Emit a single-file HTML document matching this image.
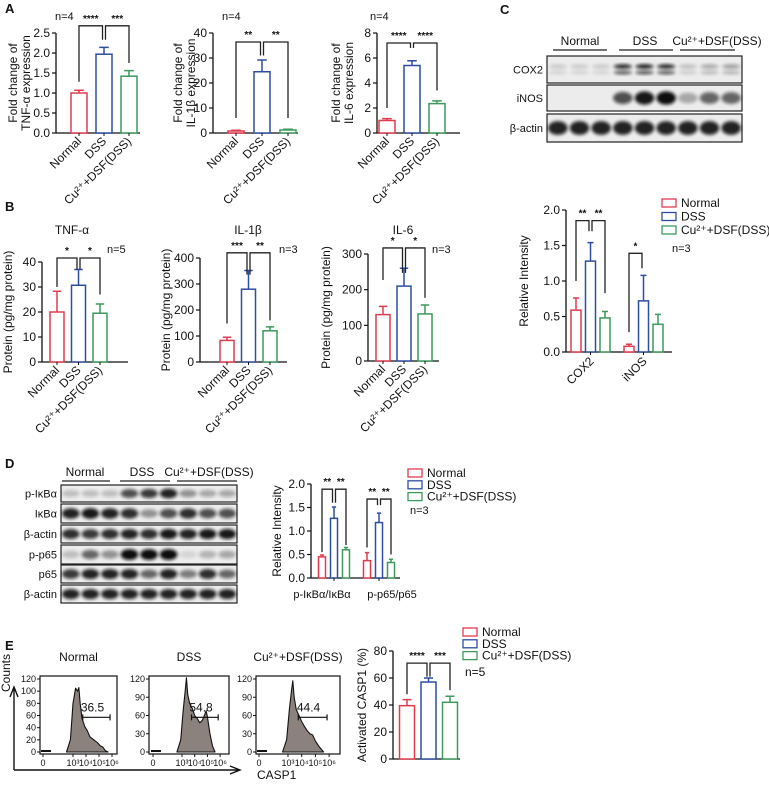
<!DOCTYPE html>
<html><head><meta charset="utf-8"><style>
html,body{margin:0;padding:0;background:#fff}
svg{display:block;font-family:"Liberation Sans",Arial,sans-serif}
</style></head><body>
<svg id="fig" width="769" height="785" viewBox="0 0 769 785" xmlns="http://www.w3.org/2000/svg">
<defs><filter id="blur" x="-20%" y="-50%" width="140%" height="200%"><feGaussianBlur stdDeviation="1.6"/></filter></defs>
</svg>
<script>
// ---------- data ----------
const groups3 = ['Normal','DSS','Cu²⁺+DSF(DSS)'];
const a1Vals = [1.0, 1.97, 1.42]; const a1Errs = [0.07, 0.17, 0.14];
const a1Ticks = [0, 0.5, 1.0, 1.5, 2.0, 2.5];
const a2Vals = [0.8, 24.5, 1.2]; const a2Errs = [0.3, 4.7, 0.3];
const a2Ticks = [0, 10, 20, 30, 40];
const a3Vals = [1.0, 5.4, 2.35]; const a3Errs = [0.15, 0.38, 0.22];
const a3Ticks = [0, 2, 4, 6, 8];
const b1Vals = [20, 30.7, 19.5]; const b1Errs = [8.3, 6.3, 3.7];
const b1Ticks = [0, 10, 20, 30, 40];
const b2Vals = [83, 280, 120]; const b2Errs = [12, 72, 15];
const b2Ticks = [0, 100, 200, 300, 400];
const b3Vals = [130, 210, 132]; const b3Errs = [23, 50, 25];
const b3Ticks = [0, 100, 200, 300];
const cCats = ['COX2','iNOS'];
const cNormal = [0.59, 0.08]; const cNormalErr = [0.17, 0.03];
const cDSS = [1.28, 0.72]; const cDSSErr = [0.26, 0.36];
const cCu = [0.48, 0.39]; const cCuErr = [0.09, 0.14];
const cTicks = [0, 0.5, 1.0, 1.5, 2.0];
const dCats = ['p-IκBα/IκBα','p-p65/p65'];
const dNormal = [0.45, 0.37]; const dNormalErr = [0.04, 0.17];
const dDSS = [1.27, 1.18]; const dDSSErr = [0.24, 0.2];
const dCu = [0.6, 0.33]; const dCuErr = [0.05, 0.07];
const dTicks = [0, 0.5, 1.0, 1.5, 2.0];
const eVals = [39.5, 57, 42]; const eErrs = [4.5, 3, 4.5];
const eTicks = [0, 20, 40, 60, 80];
// flow histograms (log10 decade, count)
const hNormalX = [2.5,2.8,3.0,3.2,3.35,3.45,3.55,3.7,3.9,4.1,4.3,4.6,4.9,5.1,5.3,5.5,5.7];
const hNormalC = [0,20,80,105,100,106,80,55,42,35,25,20,15,10,8,2,0];
const hDSSX = [2.6,2.9,3.1,3.25,3.35,3.45,3.6,3.8,4.0,4.2,4.4,4.6,4.8,4.9,5.0,5.2,5.4,5.6];
const hDSSC = [0,20,70,100,122,95,80,72,60,55,48,52,62,68,58,30,10,0];
const hCuX = [2.6,2.9,3.1,3.25,3.35,3.45,3.6,3.8,4.0,4.2,4.4,4.6,4.8,5.0,5.3,5.6];
const hCuC = [0,20,70,100,117,90,70,60,50,42,35,30,28,18,8,0];
const gateValues = ['36.5','54.8','44.4'];
// blot intensities
const cBlotCOX2 = [0.15,0.15,0.15,0.9,0.95,0.9,0.2,0.3,0.35];
const cBlotINOS = [0,0,0,0.7,0.95,1,0.3,0.6,0.6];
const cBlotActin = [0.9,0.9,0.9,0.9,0.9,0.9,0.9,0.9,0.9];
const dBlotPIkB = [0.2,0.2,0.2,0.7,0.8,0.9,0.4,0.3,0.3];
const dBlotIkB = [0.9,0.95,0.9,0.85,0.4,0.7,0.85,0.7,0.7];
const dBlotActin1 = [0.85,0.8,0.85,0.9,0.85,0.95,0.9,0.95,0.95];
const dBlotPp65 = [0.2,0.6,0.4,1,1,1,0.1,0.25,0.3];
const dBlotP65 = [0.8,0.9,0.9,0.9,0.6,0.9,0.5,0.85,0.6];
const dBlotActin2 = [0.9,0.9,0.9,0.9,0.9,0.9,0.9,0.9,0.9];

const COLORS = ['#e23b4e','#2d4ea3','#3c9a5c'];
const NS = 'http://www.w3.org/2000/svg';
const svg = document.getElementById('fig');
function mk(tag, a, parent){ const e = document.createElementNS(NS, tag); for (const k in a) e.setAttribute(k, a[k]); (parent||svg).appendChild(e); return e; }
function txt(x, y, s, size, anchor, extra){ const t = mk('text', Object.assign({x:x, y:y, 'font-size':size||11, 'text-anchor':anchor||'start', fill:'#111'}, extra||{})); t.textContent = s; return t; }

// ---------- bar chart ----------
function drawChart(cfg, series, errs, cats){
  const g = mk('g', {});
  
  
  const y = v => cfg.y0 - v / cfg.max * (cfg.y0 - cfg.yTop);
  const cx = (gi, si) => cfg.x0 + gi * cfg.gStep + si * cfg.sStep;
  const ya = mk('line', {x1:cfg.ax, x2:cfg.ax, y1:cfg.y0, y2:y(cfg.max), stroke:'#111','stroke-width':1.3}, g);
  
  
  cfg.ticks.forEach(t => {
    mk('line', {x1:cfg.ax-4, x2:cfg.ax, y1:y(t), y2:y(t), stroke:'#111','stroke-width':1.2}, g);
    const lb = txt(cfg.ax-6, y(t)+4, t.toFixed(cfg.dec), cfg.tfs||12, 'end', {});
    g.appendChild(lb);
    
    
  });
  const xa = mk('line', {x1:cfg.ax, x2:cfg.xEnd, y1:cfg.y0, y2:cfg.y0, stroke:'#111','stroke-width':1.3}, g);
  
  
  series.forEach((vals, si) => {
    vals.forEach((v, gi) => {
      const c = cx(gi, si), bw = cfg.bw;
      const r = mk('rect', {x:c-bw/2, y:y(v), width:bw, height:cfg.y0-y(v), fill:'#fff', stroke:COLORS[si], 'stroke-width':1.5}, g);
      
      
      const e = errs[si][gi];
      const eb = mk('path', {d:`M${c} ${y(v)} V${y(v+e)} M${c-bw*0.3} ${y(v+e)} H${c+bw*0.3}`, stroke:COLORS[si], 'stroke-width':1.5, fill:'none'}, g);
      
      
      if (cfg.perBarTick) mk('line', {x1:c, x2:c, y1:cfg.y0, y2:cfg.y0+3, stroke:'#111'}, g);
    });
  });
  if (cfg.rotLabels === 'bar') {
    groups3.forEach((s, si) => {
      const c = cx(0, si);
      const t = txt(c+3, cfg.y0+9, s, cfg.lfs||12, 'end', {transform:`rotate(-45 ${c+3} ${cfg.y0+9})`});
      g.appendChild(t);
      
      
    });
  } else if (cats) {
    cats.forEach((s, gi) => {
      const c = cx(gi, 1);
      mk('line', {x1:c, x2:c, y1:cfg.y0, y2:cfg.y0+3, stroke:'#111'}, g);
      let t;
      if (cfg.rotLabels === 'group') t = txt(c+4, cfg.y0+10, s, 12, 'end', {transform:`rotate(-45 ${c+4} ${cfg.y0+10})`});
      else t = txt(c + (gi === 0 ? -12 : 13), cfg.y0+20, s, 11, 'middle');
      g.appendChild(t);
      
      
    });
  }
  (cfg.sigs||[]).forEach(sg => {
    const [gi1, si1, gi2, si2, lev, d1, d2, lab] = sg;
    const x1 = cx(gi1, si1) + (si1===1 ? 1.5 : 0), x2 = cx(gi2, si2) - (si2===1 ? 1.5 : 0);
    const p = mk('path', {d:`M${x1} ${y(d1)} V${y(lev)} H${x2} V${y(d2)}`, stroke:'#222','stroke-width':1.3, fill:'none'}, g);
    
    
    const t = txt((x1+x2)/2, y(lev)-4, lab, 10, 'middle', {'font-weight':'bold'});
    g.appendChild(t);
    
    
  });
  if (cfg.ytitle) {
    const ty = (cfg.y0 + y(cfg.max)) / 2;
    cfg.ytitle.forEach((line, i) => {
      const xx = cfg.ytx + i * 13;
      const t = txt(xx, ty, line, cfg.ytfs||12, 'middle', {transform:`rotate(-90 ${xx} ${ty})`});
      g.appendChild(t);
      
      
    });
  }
}
const one = v => v.map(x => [x]);

drawChart({name:'chart-a-tnf', ax:56, y0:133, yTop:33, max:2.5, ticks:a1Ticks, dec:1, x0:79, gStep:0, sStep:25, bw:16, xEnd:140, perBarTick:true, rotLabels:'bar', ytitle:['Fold change of','TNF-α expression'], ytx:17,
  sigs:[[0,0,0,1,2.68,1.28,2.33,'****'],[0,1,0,2,2.68,2.33,1.75,'***']]}, one(a1Vals), one(a1Errs));
drawChart({name:'chart-a-il1b', ax:213, y0:133, yTop:33, max:40, ticks:a2Ticks, dec:0, x0:236, gStep:0, sStep:26, bw:16, xEnd:298, perBarTick:true, rotLabels:'bar', ytitle:['Fold change of','IL-1β expression'], ytx:182,
  sigs:[[0,0,0,1,36.4,6,31,'**'],[0,1,0,2,36.4,31,6,'**']]}, one(a2Vals), one(a2Errs));
drawChart({name:'chart-a-il6', ax:377, y0:133, yTop:33, max:8, ticks:a3Ticks, dec:0, x0:387, gStep:0, sStep:25, bw:16, xEnd:460, perBarTick:true, rotLabels:'bar', ytitle:['Fold change of','IL-6 expression'], ytx:340,
  sigs:[[0,0,0,1,7.2,2,6.8,'****'],[0,1,0,2,7.2,6.8,3.4,'****']]}, one(a3Vals), one(a3Errs));
drawChart({name:'chart-b-tnf', ax:42, y0:362, yTop:262, max:40, ticks:b1Ticks, dec:0, x0:57, gStep:0, sStep:21.5, bw:14, xEnd:128, perBarTick:true, rotLabels:'bar', ytitle:['Protein (pg/mg protein)'], ytx:12,
  sigs:[[0,0,0,1,41.6,30,37,'*'],[0,1,0,2,41.6,37,27,'*']]}, one(b1Vals), one(b1Errs));
drawChart({name:'chart-b-il1b', ax:200, y0:362, yTop:258, max:400, ticks:b2Ticks, dec:0, x0:227, gStep:0, sStep:21.5, bw:14, xEnd:287, perBarTick:true, rotLabels:'bar', ytitle:['Protein (pg/mg protein)'], ytx:170,
  sigs:[[0,0,0,1,420,148,336,'***'],[0,1,0,2,420,336,160,'**']]}, one(b2Vals), one(b2Errs));
drawChart({name:'chart-b-il6', ax:368, y0:361, yTop:254, max:300, ticks:b3Ticks, dec:0, x0:383, gStep:0, sStep:21, bw:14, xEnd:439, perBarTick:true, rotLabels:'bar', ytitle:['Protein (pg/mg protein)'], ytx:330,
  sigs:[[0,0,0,1,317,227,247,'*'],[0,1,0,2,317,247,177,'*']]}, one(b3Vals), one(b3Errs));
drawChart({name:'chart-c-relative-intensity', ax:566, y0:352, yTop:210, max:2, ticks:cTicks, dec:1, x0:576, gStep:53, sStep:14.5, bw:10, xEnd:672, rotLabels:'group', ytitle:['Relative Intensity'], ytx:528,
  sigs:[[0,0,0,1,1.85,1.0,1.7,'**'],[0,1,0,2,1.85,1.7,0.83,'**'],[1,0,1,1,1.39,0.28,1.18,'*']]},
  [cNormal, cDSS, cCu], [cNormalErr, cDSSErr, cCuErr], cCats);
drawChart({name:'chart-d-relative-intensity', ax:311, y0:578, yTop:484, max:2, ticks:dTicks, dec:1, x0:322, gStep:45, sStep:12, bw:7, xEnd:400, rotLabels:'none', ytitle:['Relative Intensity'], ytx:281,
  sigs:[[0,0,0,1,1.89,0.55,1.6,'**'],[0,1,0,2,1.89,1.6,0.7,'**'],[1,0,1,1,1.68,0.65,1.55,'**'],[1,1,1,2,1.68,1.55,0.5,'**']]},
  [dNormal, dDSS, dCu], [dNormalErr, dDSSErr, dCuErr], dCats);
drawChart({name:'chart-e-activated-casp1', ax:393, y0:759, yTop:651, max:80, ticks:eTicks, dec:0, x0:407, gStep:0, sStep:21.5, bw:15, xEnd:460, rotLabels:'none', ytitle:['Activated CASP1 (%)'], ytx:366, tfs:12,
  sigs:[[0,0,0,1,71,48,61,'****'],[0,1,0,2,71,61,51,'***']]}, one(eVals), one(eErrs));

// ---------- legends ----------
function legend(x, y, step, name){
  const g = mk('g', {});
  
  
  groups3.forEach((s, i) => {
    mk('rect', {x:x, y:y+i*step-8, width:14, height:8, fill:'#fff', stroke:COLORS[i], 'stroke-width':1.3}, g);
    const t = txt(x+19, y+i*step, s, 12, 'start');
    g.appendChild(t);
    
    
  });
}
legend(662, 207, 13.5, 'legend-c');
legend(408, 477, 11.8, 'legend-d');
legend(463, 636, 11.8, 'legend-e');

// ---------- static text ----------
const statics = [
  [5,13,'A',13,'bold','panel-label-a'],[5,211,'B',13,'bold','panel-label-b'],[500,14,'C',13,'bold','panel-label-c'],
  [5,468,'D',13,'bold','panel-label-d'],[5,650,'E',13,'bold','panel-label-e'],
  [55,20,'n=4',11,'','n-label'],[222,20,'n=4',11,'','n-label'],[370,20,'n=4',11,'','n-label'],
  [107,253,'n=5',11,'','n-label'],[279,253,'n=3',11,'','n-label'],[432,253,'n=3',11,'','n-label'],
  [672,252,'n=3',11,'','n-label'],[410,514,'n=3',11,'','n-label'],[465,676,'n=5',12,'','n-label']
];
statics.forEach(s => {
  const t = txt(s[0], s[1], s[2], s[3], 'start', s[4] ? {'font-weight':'bold'} : {});
  
  
});
[[72,234,'TNF-α'],[248,234,'IL-1β'],[403,234,'IL-6']].forEach(s => {
  const t = txt(s[0], s[1], s[2], 12, 'middle');
  
  
});

// ---------- western blots ----------
function blot(x0, x1, rows, name){
  const g = mk('g', {});
  
  
  const lw = (x1 - x0) / 9;
  rows.forEach(r => {
    const [label, yt, yb, ints, dbl] = r;
    mk('rect', {x:x0, y:yt, width:x1-x0, height:yb-yt, fill:'#ececec', stroke:'#222', 'stroke-width':1.2}, g);
    ints.forEach((v, i) => {
      const cx = x0 + lw*(i+0.5), cy = (yt+yb)/2;
      if (dbl) {
        mk('ellipse', {cx:cx, cy:cy-3, rx:lw*0.42, ry:2.2, fill:'#111', opacity:v, filter:'url(#blur)'}, g);
        mk('ellipse', {cx:cx, cy:cy+3, rx:lw*0.42, ry:2, fill:'#111', opacity:v*0.7, filter:'url(#blur)'}, g);
      } else {
        mk('ellipse', {cx:cx, cy:cy, rx:lw*0.45, ry:(yb-yt)*0.18 + v*2, fill:'#111', opacity:v, filter:'url(#blur)'}, g);
      }
    });
    const t = txt(x0-4, (yt+yb)/2+4, label, 11, 'end');
    g.appendChild(t);
    
    
  });
}
blot(547, 742, [['COX2',56,83,cBlotCOX2,true],['iNOS',85,111,cBlotINOS,false],['β-actin',114,142,cBlotActin,false]], 'blot-c');
blot(61, 237, [['p-IκBα',485,502,dBlotPIkB,false],['IκBα',504,523,dBlotIkB,false],['β-actin',525,543,dBlotActin1,false],
  ['p-p65',545,564,dBlotPp65,false],['p65',565,583,dBlotP65,false],['β-actin',585,603,dBlotActin2,false]], 'blot-d');
[[580,45,553,607,'Normal'],[645,45,619,673,'DSS'],[717,45,680,735,'Cu²⁺+DSF(DSS)'],
 [85,476,62,110,'Normal'],[142,476,120,170,'DSS'],[209,476,177,237,'Cu²⁺+DSF(DSS)']].forEach(s => {
  const t = txt(s[0], s[1], s[4], 12, 'middle');
  
  
  const l = mk('line', {x1:s[2], x2:s[3], y1:s[1]+5, y2:s[1]+5, stroke:'#222', 'stroke-width':1.2});
  
  
});

// ---------- flow histograms ----------
function flow(cfg, xs, cs, gate){
  const g = mk('g', {});
  
  
  const px = d => cfg.p3 + (d - 3) * cfg.dec;
  const py = c => 752 - c * 73 / 120;
  let d = `M${px(xs[0])} ${py(0)}`;
  xs.forEach((x, i) => { d += ` L${px(x)} ${py(cs[i])}`; });
  d += ` L${px(xs[xs.length-1])} ${py(0)} Z`;
  const h = mk('path', {d:d, fill:'#8b827d', stroke:'#111', 'stroke-width':1.1, 'stroke-linejoin':'round'}, g);
  
  
  mk('line', {x1:cfg.p0-2, x2:cfg.p0+8, y1:py(0)-1, y2:py(0)-1, stroke:'#111', 'stroke-width':2}, g);
  const box = mk('rect', {x:cfg.x0, y:676, width:cfg.x1-cfg.x0, height:78, fill:'none', stroke:'#111', 'stroke-width':1.2}, g);
  
  
  cfg.yt.forEach(v => {
    mk('line', {x1:cfg.x0-3, x2:cfg.x0, y1:py(v), y2:py(v), stroke:'#111'}, g);
    g.appendChild(txt(cfg.x0-4, py(v)+3, String(v), 9, 'end'));
  });
  [['0',null],['10³',3],['10⁴',4],['10⁵',5],['10⁶',6]].forEach(t => {
    const xx = t[1] === null ? cfg.p0 : px(t[1]);
    mk('line', {x1:xx, x2:xx, y1:754, y2:757, stroke:'#111'}, g);
    g.appendChild(txt(xx, 766, t[0], 9, 'middle'));
  });
  const gy = py(57);
  const gl = mk('path', {d:`M${px(3.75)} ${gy} H${px(5.85)} M${px(3.75)} ${gy-3} V${gy+3} M${px(5.85)} ${gy-3} V${gy+3}`, stroke:'#111', 'stroke-width':1.2, fill:'none'}, g);
  
  
  const gt = txt(px(4.5), gy-6, gate, 12, 'middle');
  g.appendChild(gt);
  
  
  const tt = txt((cfg.x0+cfg.x1)/2, 661, cfg.title, 12, 'middle');
  g.appendChild(tt);
  
  
}
flow({name:'flow-normal', x0:40, x1:117, p0:43, p3:73, dec:13, yt:[0,20,40,60,80,100,120], title:'Normal'}, hNormalX, hNormalC, gateValues[0]);
flow({name:'flow-dss', x0:149, x1:229, p0:153, p3:182, dec:12.7, yt:[0,30,60,90,120], title:'DSS'}, hDSSX, hDSSC, gateValues[1]);
flow({name:'flow-cu-dsf', x0:256, x1:340, p0:259, p3:288, dec:13.7, yt:[0,30,60,90,120], title:'Cu²⁺+DSF(DSS)'}, hCuX, hCuC, gateValues[2]);
const ax1 = mk('path', {d:'M14 770 V689 M10 697 L14 687 L18 697 M14 770 H238 M230 766 L240 770 L230 774', stroke:'#111', 'stroke-width':1.4, fill:'none'});


const cnt = txt(10, 673, 'Counts', 12, 'middle', {transform:'rotate(-90 10 673)'});


const casp = txt(257, 779, 'CASP1', 12, 'start');


</script>
</body></html>
